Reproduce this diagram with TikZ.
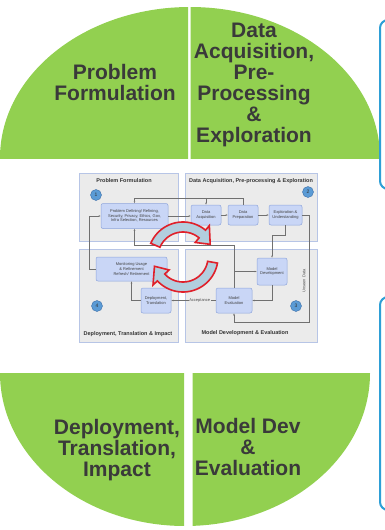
\documentclass[tikz,border=0pt]{standalone}
\usepackage{fontspec}
\setmainfont{Liberation Sans}
\usetikzlibrary{arrows.meta,calc}
\definecolor{grn}{HTML}{92D050}
\definecolor{txtdark}{HTML}{3A3A3A}
\definecolor{bluebox}{HTML}{2E9FD6}
\definecolor{panelfill}{HTML}{EBEBEB}
\definecolor{paneldraw}{HTML}{B7C5E6}
\definecolor{boxfill}{HTML}{C9D6F6}
\definecolor{boxdraw}{HTML}{8EA5DC}
\definecolor{circfill}{HTML}{5B9BD5}
\definecolor{circdraw}{HTML}{3E6FA8}
\definecolor{lineg}{HTML}{707070}
\definecolor{arrred}{HTML}{E0202A}
\definecolor{arrfill}{HTML}{B2CEDE}
\begin{document}
\begin{tikzpicture}[x=1pt,y=-1pt,
  bigtxt/.style={text=txtdark, font=\fontsize{21}{21}\selectfont\bfseries, align=center, inner sep=0pt},
  panel/.style={draw=paneldraw, fill=panelfill, line width=0.6pt, anchor=north west, inner sep=0pt},
  ptitle/.style={font=\fontsize{5.5}{6}\selectfont\bfseries, text=black!80, inner sep=0pt},
  pbox/.style={draw=boxdraw, fill=boxfill, rounded corners=2pt, line width=0.5pt, align=center, inner sep=0pt, font=\fontsize{4}{4.6}\selectfont, text=black!75},
  numc/.style={circle, fill=circfill, draw=circdraw, line width=0.4pt, minimum size=11pt, inner sep=0pt, font=\fontsize{5}{5}\selectfont, text=black!80},
  conn/.style={draw=lineg, line width=0.4pt, -{Latex[length=2pt,width=1.8pt]}},
  wire/.style={draw=lineg, line width=0.4pt},
  lbl/.style={font=\fontsize{4}{4.6}\selectfont, text=black!70, inner sep=0.6pt},
  redarrow/.style={draw=arrred, line width=1.6pt, fill=arrfill, line join=miter},
  bluepanel/.style={draw=bluebox, line width=2pt, rounded corners=8pt}
]
\useasboundingbox (0,0) rectangle (385,530);
\clip (0,0) rectangle (385,530);
\fill[white] (0,0) rectangle (385,530);

% green half ellipses
\begin{scope}
  \clip (0,0) rectangle (188,158);
  \fill[grn] (190,158) ellipse [x radius=190pt, y radius=151pt];
\end{scope}
\begin{scope}
  \clip (190.5,0) rectangle (385,158);
  \fill[grn] (190,158) ellipse [x radius=190pt, y radius=151pt];
\end{scope}
\begin{scope}
  \clip (0,373) rectangle (184,530);
  \fill[grn] (185,373) ellipse [x radius=185pt, y radius=153pt];
\end{scope}
\begin{scope}
  \clip (192.5,373) rectangle (385,530);
  \fill[grn] (185,373) ellipse [x radius=185pt, y radius=153pt];
\end{scope}

\node[bigtxt] (t1) at (115,82) {Problem\\Formulation};
\node[bigtxt] (t2) at (254,85) {Data\\Acquisition,\\Pre-\\Processing\\\&\\Exploration};
\node[bigtxt] (t4) at (117,450) {Deployment,\\Translation,\\Impact};
\node[bigtxt] (t3) at (248,447) {Model Dev\\\&\\Evaluation};

% right blue boxes
\draw[bluepanel] (380,20) rectangle (400,189);
\draw[bluepanel] (380,297) rectangle (400,510);

% panels
\node[panel, minimum width=99pt, minimum height=68pt] (p1) at (79,173) {};
\node[panel, minimum width=132pt, minimum height=68pt] (p2) at (185,173) {};
\node[panel, minimum width=99pt, minimum height=93pt] (p4) at (79,249) {};
\node[panel, minimum width=132pt, minimum height=93pt] (p3) at (185,249) {};

\node[ptitle] (h1) at (124,181) {Problem Formulation};
\node[ptitle] (h2) at (251,181) {Data Acquisition, Pre-processing \& Exploration};
\node[ptitle] (h4) at (128,334) {Deployment, Translation \& Impact};
\node[ptitle] (h3) at (245,333) {Model Development \& Evaluation};

\node[numc] (c1) at (96,195) {1};
\node[numc] (c2) at (308,192) {2};
\node[numc] (c3) at (296,306) {3};
\node[numc] (c4) at (97,306) {4};

% boxes
\node[pbox, minimum width=67pt, minimum height=25pt] (pd) at (134.5,216) {Problem Defining/ Refining,\\Security, Privacy, Ethics, Gov,\\Infra Selection, Resources};
\node[pbox, minimum width=30pt, minimum height=20pt] (da) at (206,215) {Data\\Acquisition};
\node[pbox, minimum width=30pt, minimum height=20pt] (dp) at (243,215) {Data\\Preparation};
\node[pbox, minimum width=33pt, minimum height=20pt] (eu) at (285.5,215) {Exploration \&\\Understanding};
\node[pbox, minimum width=30pt, minimum height=27pt] (md) at (272,271.5) {Model\\Development};
\node[pbox, minimum width=36pt, minimum height=25pt] (me) at (234,300.5) {Model\\Evaluation};
\node[pbox, minimum width=71pt, minimum height=24pt] (mon) at (131.5,269) {Monitoring Usage\\\& Refinement\\Refresh/ Retirement};
\node[pbox, minimum width=30pt, minimum height=25pt] (dep) at (156,300.5) {Deployment,\\Translation};

% connectors
\draw[conn] (pd.east) -- (pd.east -| da.west);
\draw[conn] (da.east) -- (dp.west);
\draw[conn] (dp.east) -- (eu.west);
\draw[conn] (dp.north) -- ++(0,-7) -| (pd.north);
\draw[conn] ($(da.north)+(0,-7)$) -- (da.north);
\draw[conn] (mon.west) -- ++(-7,0) |- (pd.west);
\draw[conn] (me.north) -- (me.north |- 0,245) -| (pd.south);
\draw[conn] (me.north |- md.west) -- (md.west);
\draw[conn] (eu.south) -- ++(0,10) -| (md.north);
\draw[conn] (md.south) |- (me.east);
\draw[conn] (eu.east) -| (309,322) -| (me.south);
\node[lbl, rotate=90] (ud) at (304,281) {Unseen Data};
\draw[conn] (me.west) -- node[lbl, fill=panelfill, pos=0.36] (acc) {Acceptance} (dep.east);
\draw[conn] (dep.west) -| (mon.south);

% red cycle arrows
\draw[redarrow] plot[domain=157:50,samples=40] ({183+35*cos(\x)},{257-35*sin(\x)})
  -- ({183+41*cos(50)},{257-41*sin(50)})
  -- ({183+30*cos(25)},{257-30*sin(25)})
  -- ({183+19*cos(50)},{257-19*sin(50)})
  -- plot[domain=50:157,samples=40] ({183+25*cos(\x)},{257-25*sin(\x)}) -- cycle;
\draw[redarrow] plot[domain=-10:-137,samples=40] ({183+35*cos(\x)},{257-35*sin(\x)})
  -- ({183+41*cos(-137)},{257-41*sin(-137)})
  -- ({183+30*cos(-162)},{257-30*sin(-162)})
  -- ({183+19*cos(-137)},{257-19*sin(-137)})
  -- plot[domain=-137:-10,samples=40] ({183+25*cos(\x)},{257-25*sin(\x)}) -- cycle;
\end{tikzpicture}
\end{document}
